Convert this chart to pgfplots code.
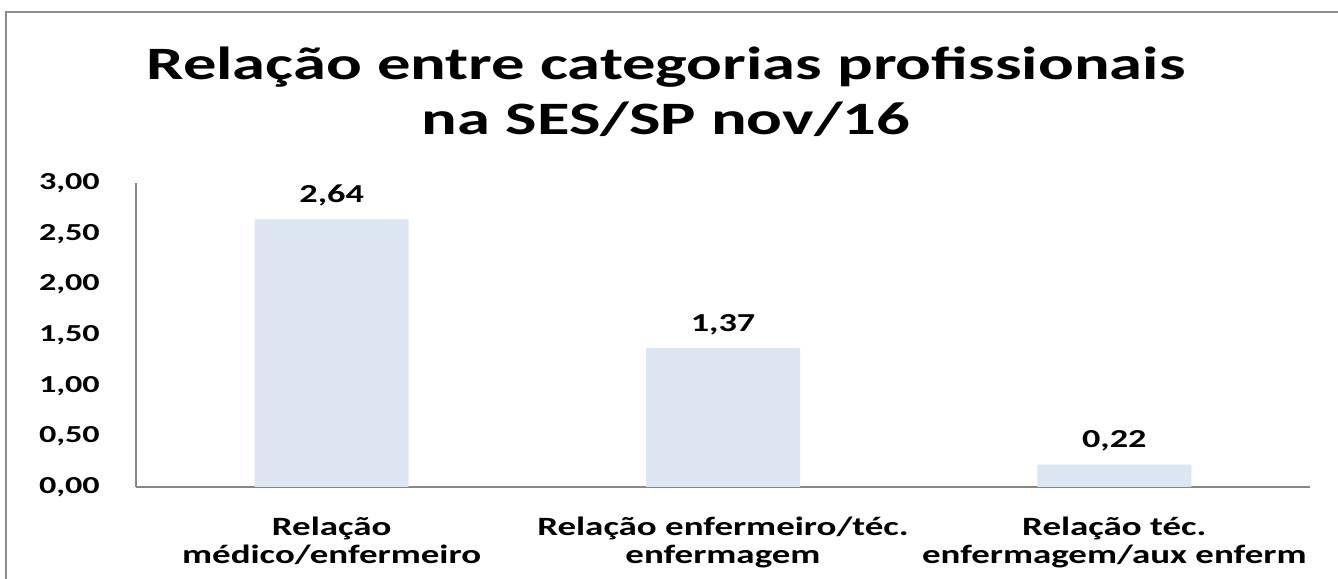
\documentclass[border=0pt]{standalone}
\usepackage{fontspec}
\setmainfont{Carlito}[FakeStretch=1.4]
\newfontfamily\titlefont{Carlito}[FakeStretch=1.435]
\usepackage{pgfplots}
\pgfplotsset{compat=1.18}
\definecolor{barfill}{HTML}{DCE6F2}
\definecolor{axgray}{HTML}{868686}
\definecolor{bordergray}{HTML}{8C8C8C}
\begin{document}
\begin{tikzpicture}[x=1bp,y=1bp]
\path[use as bounding box, fill=white] (0,0) rectangle (1338,579);
\draw[bordergray, line width=2.5bp] (6,-5) -- (6,567) -- (1345,567);
\node[anchor=base, font=\titlefont\fontsize{46.6}{50}\selectfont\bfseries] at (666,499) {Relação entre categorias profissionais};
\node[anchor=base, font=\titlefont\fontsize{46.6}{50}\selectfont\bfseries] at (666,444) {na SES/SP nov/16};
\begin{axis}[
  at={(136bp,92bp)}, anchor=south west,
  scale only axis, width=1174bp, height=304bp,
  ybar, bar width=154bp,
  xmin=-0.5, xmax=2.5, ymin=0, ymax=3,
  axis x line*=bottom, axis y line*=left,
  axis line style={axgray, line width=1.3bp},
  tick style={draw=none},
  ytick={0,0.5,1,1.5,2,2.5,3},
  xtick={0,1,2},
  xticklabels={{Relação\\médico/enfermeiro},{Relação enfermeiro/téc.\\enfermagem},{Relação téc.\\enfermagem/aux enferm}},
  /pgf/number format/fixed,
  /pgf/number format/fixed zerofill,
  /pgf/number format/precision=2,
  /pgf/number format/use comma,
  /pgf/number format/assume math mode=true,
  yticklabel style={font=\fontsize{24.5}{25}\selectfont\bfseries, anchor=east, inner sep=0pt, xshift=-36bp},
  xticklabel style={font=\fontsize{26.5}{28}\selectfont\bfseries, align=center, anchor=north, inner sep=0pt, yshift=-26bp},
  nodes near coords,
  every node near coord/.append style={font=\fontsize{26}{28}\selectfont\bfseries, anchor=base, inner sep=0pt, yshift=17bp},
  clip=false,
]
\addplot[fill=barfill, draw=none] coordinates {(0,2.64) (1,1.37) (2,0.22)};
\end{axis}
\end{tikzpicture}
\end{document}
